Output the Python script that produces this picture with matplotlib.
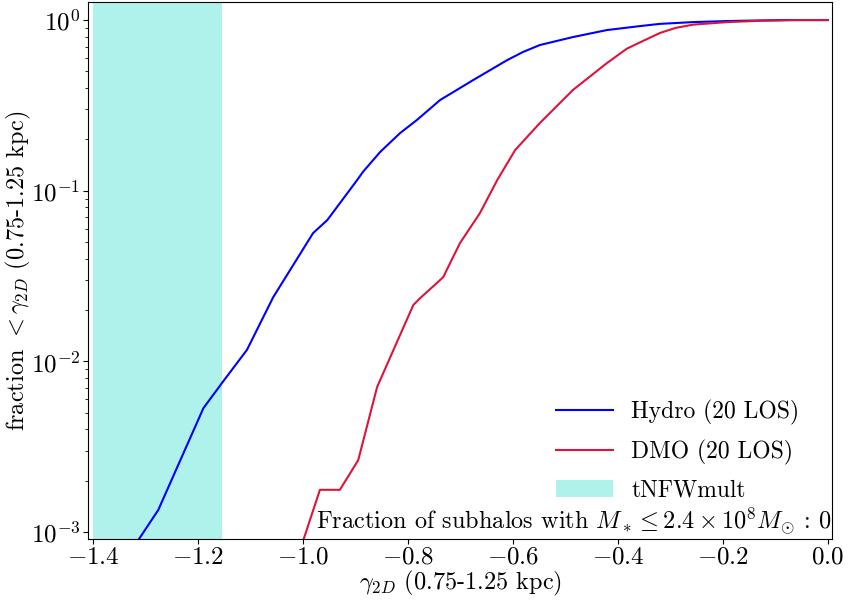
import numpy as np
import matplotlib
matplotlib.use("Agg")
import matplotlib.pyplot as plt

plt.rcParams['font.family'] = 'serif'
plt.rcParams['font.serif'] = ['cmr10', 'DejaVu Serif']
plt.rcParams['mathtext.fontset'] = 'cm'
plt.rcParams['axes.formatter.use_mathtext'] = True

# ── Data ───────────────────────────────────────────────────────────────────
hydro_x = [-1.325, -1.276, -1.190, -1.152, -1.107, -1.057, -0.981, -0.954,
           -0.897, -0.886, -0.853, -0.815, -0.783, -0.739, -0.676, -0.611,
           -0.581, -0.549, -0.486, -0.421, -0.358, -0.320, -0.257, -0.192,
           -0.130, -0.08, 0.0]
hydro_y = [8.0e-4, 1.35e-3, 5.33e-3, 7.67e-3, 1.17e-2, 2.38e-2, 5.65e-2, 6.73e-2,
           0.1156, 0.129, 0.169, 0.218, 0.26, 0.340, 0.445, 0.583,
           0.650, 0.714, 0.795, 0.874, 0.922, 0.950, 0.973, 0.987,
           0.995, 1.0, 1.0]

dmo_x = [-1.005, -0.968, -0.930, -0.895, -0.859, -0.853, -0.790, -0.777,
         -0.749, -0.733, -0.701, -0.663, -0.630, -0.596, -0.549, -0.486,
         -0.421, -0.383, -0.358, -0.320, -0.290, -0.257, -0.192, -0.130,
         -0.06, 0.0]
dmo_y = [8.0e-4, 1.77e-3, 1.77e-3, 2.64e-3, 7.08e-3, 7.8e-3, 2.14e-2, 2.35e-2,
         2.81e-2, 3.12e-2, 4.94e-2, 7.4e-2, 0.1156, 0.173, 0.249, 0.389,
         0.560, 0.680, 0.740, 0.840, 0.900, 0.940, 0.973, 0.990,
         1.0, 1.0]

tnfw_range = (-1.4, -1.155)
mstar_text = r'Fraction of subhalos with $M_* \leq 2.4\times10^{8}M_{\odot}$ : 0'

# ── Plot ───────────────────────────────────────────────────────────────────
fig = plt.figure(figsize=(8.51, 6.0), dpi=100)
ax = fig.add_axes([0.1034, 0.1017, 0.8743, 0.895])

ax.plot(hydro_x, hydro_y, color='blue', lw=1.5, label='Hydro (20 LOS)')
ax.plot(dmo_x, dmo_y, color='crimson', lw=1.5, label='DMO (20 LOS)')
ax.axvspan(*tnfw_range, color='turquoise', alpha=0.42, lw=0, label='tNFWmult')

ax.set_yscale('log')
ax.set_xlim(-1.41, 0.008)
ax.set_ylim(10**-3.04, 10**0.106)
ax.set_xticks(np.arange(-1.4, 0.01, 0.2))
ax.tick_params(labelsize=18, pad=2)

ax.set_xlabel(r'$\gamma_{2D}$ (0.75-1.25 kpc)', fontsize=17.5, labelpad=0)
ax.set_ylabel(r'fraction $<\gamma_{2D}$ (0.75-1.25 kpc)', fontsize=17.5, labelpad=-2)

ax.legend(loc='lower right', bbox_to_anchor=(0.985, 0.03), frameon=False,
          fontsize=17, handlelength=2.4, labelspacing=0.62)
ax.text(0.999, 0.004, mstar_text, transform=ax.transAxes, ha='right', va='bottom',
        fontsize=17.5)

fig.savefig('out.png', dpi=100)
